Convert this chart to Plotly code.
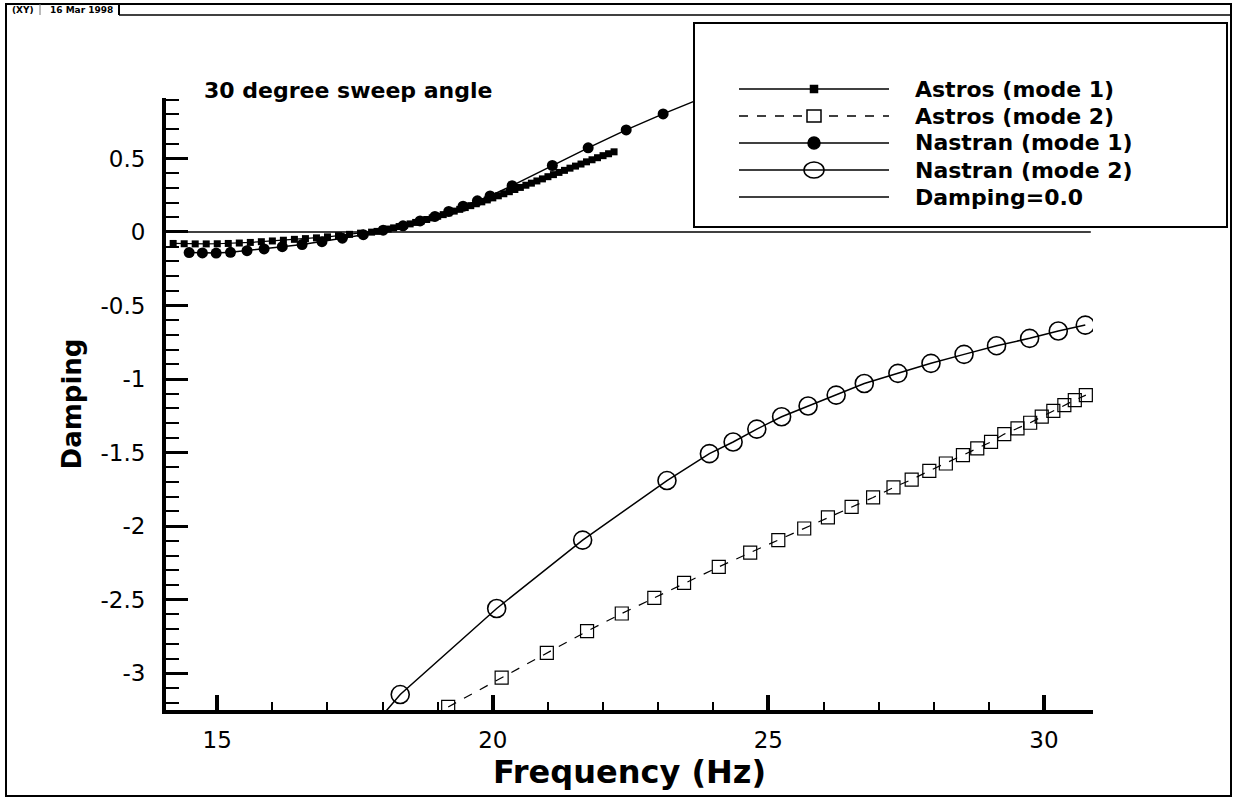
import plotly.graph_objects as go

# ---------------- data ----------------
astros1_x = [14.2, 14.4, 14.6, 14.8, 15.0, 15.2, 15.4, 15.6, 15.8, 16.0, 16.2, 16.4, 16.6,
             16.8, 17.0, 17.2, 17.4, 17.6, 17.8, 17.9, 18.0, 18.1, 18.2, 18.3, 18.4, 18.5,
             18.6, 18.7, 18.8, 18.9, 19.0, 19.1, 19.2, 19.3, 19.4, 19.5, 19.6, 19.7, 19.8,
             19.9, 20.0, 20.1, 20.2, 20.3, 20.4, 20.5, 20.6, 20.7, 20.8, 20.9, 21.0, 21.1,
             21.2, 21.3, 21.4, 21.5, 21.6, 21.7, 21.8, 21.9, 22.0, 22.1, 22.2]
astros1_y = [-0.078, -0.080, -0.081, -0.081, -0.080, -0.078, -0.075, -0.071, -0.066, -0.061,
             -0.056, -0.050, -0.045, -0.040, -0.033, -0.025, -0.016, -0.008, -0.001, 0.004,
             0.012, 0.020, 0.028, 0.037, 0.046, 0.055, 0.065, 0.075, 0.085, 0.096, 0.107,
             0.118, 0.130, 0.142, 0.154, 0.166, 0.179, 0.192, 0.205, 0.218, 0.232, 0.246,
             0.260, 0.274, 0.289, 0.303, 0.318, 0.332, 0.347, 0.361, 0.376, 0.390, 0.405,
             0.419, 0.434, 0.448, 0.462, 0.477, 0.491, 0.505, 0.519, 0.532, 0.545]

astros2_x = [19.19, 20.16, 20.98, 21.71, 22.34, 22.93, 23.47, 24.10, 24.67, 25.18, 25.65,
             26.08, 26.51, 26.90, 27.27, 27.60, 27.92, 28.22, 28.53, 28.79, 29.04, 29.28,
             29.52, 29.75, 29.96, 30.17, 30.37, 30.56, 30.76]
astros2_y = [-3.229, -3.030, -2.862, -2.714, -2.594, -2.488, -2.386, -2.277, -2.180, -2.095,
             -2.016, -1.940, -1.869, -1.805, -1.737, -1.683, -1.624, -1.574, -1.517, -1.471,
             -1.427, -1.374, -1.335, -1.297, -1.256, -1.216, -1.177, -1.143, -1.109]

nastran1_x = [14.49, 14.73, 14.98, 15.24, 15.54, 15.85, 16.18, 16.54, 16.90, 17.27, 17.65,
              18.01, 18.37, 18.68, 18.95, 19.20, 19.46, 19.72, 19.95, 20.35, 21.08, 21.73,
              22.42, 23.09, 23.76]
nastran1_y = [-0.140, -0.142, -0.143, -0.138, -0.127, -0.115, -0.100, -0.085, -0.066, -0.042,
              -0.018, 0.012, 0.042, 0.075, 0.106, 0.140, 0.175, 0.212, 0.245, 0.315, 0.452,
              0.572, 0.694, 0.803, 0.905]

nastran2_x = [16.70, 18.32, 20.07, 21.63, 23.16, 23.93, 24.36, 24.79, 25.24, 25.72, 26.23,
              26.74, 27.35, 27.95, 28.55, 29.14, 29.74, 30.26, 30.75]
nastran2_y = [-3.850, -3.145, -2.560, -2.095, -1.690, -1.507, -1.428, -1.340, -1.256, -1.183,
              -1.109, -1.030, -0.961, -0.893, -0.832, -0.773, -0.723, -0.673, -0.633]

zero_x = [14.07, 30.85]
zero_y = [0.0, 0.0]

x_tick_vals = [15, 20, 25, 30]
x_tick_text = ["15", "20", "25", "30"]
y_tick_vals = [0.5, 0, -0.5, -1, -1.5, -2, -2.5, -3]
y_tick_text = ["0.5", "0", "-0.5", "-1", "-1.5", "-2", "-2.5", "-3"]

series_names = ["Astros (mode 1)", "Astros (mode 2)", "Nastran (mode 1)",
                "Nastran (mode 2)", "Damping=0.0"]

# ---------------- figure ----------------
W, H = 1234, 799
L, R, T, B = 166, 1093, 98, 710


def px(x):
    return (x - L) / (R - L)


def py(y):
    return (B - y) / (B - T)


FONT = "DejaVu Sans"
BLACK = "#000000"

fig = go.Figure()
fig.add_trace(go.Scatter(x=zero_x, y=zero_y, mode="lines", name=series_names[4],
                         line=dict(color=BLACK, width=1.5)))
fig.add_trace(go.Scatter(x=astros1_x, y=astros1_y, mode="lines+markers", name=series_names[0],
                         line=dict(color=BLACK, width=1.2),
                         marker=dict(symbol="square", size=7, color=BLACK)))
fig.add_trace(go.Scatter(x=astros2_x, y=astros2_y, mode="lines+markers", name=series_names[1],
                         line=dict(color=BLACK, width=1.2, dash="dash"),
                         marker=dict(symbol="square-open", size=13, color=BLACK,
                                     line=dict(width=1.2, color=BLACK))))
fig.add_trace(go.Scatter(x=nastran1_x, y=nastran1_y, mode="lines+markers", name=series_names[2],
                         line=dict(color=BLACK, width=1.5),
                         marker=dict(symbol="circle", size=11, color=BLACK)))
fig.add_trace(go.Scatter(x=nastran2_x, y=nastran2_y, mode="lines+markers", name=series_names[3],
                         line=dict(color=BLACK, width=1.5),
                         marker=dict(symbol="circle-open", size=18, color=BLACK,
                                     line=dict(width=1.6, color=BLACK))))

fig.update_xaxes(
    range=[14.07, 30.89], showgrid=False, zeroline=False,
    showline=True, linecolor=BLACK, linewidth=4, mirror=False,
    tickmode="array", tickvals=x_tick_vals, ticktext=x_tick_text,
    ticks="inside", ticklen=15, tickwidth=4, tickcolor=BLACK,
    ticklabelstandoff=6,
    tickfont=dict(family=FONT, size=23, color=BLACK),
    minor=dict(tickmode="linear", tick0=0, dtick=1, ticks="inside", ticklen=8,
               tickwidth=1.5, tickcolor=BLACK, showgrid=False),
    title=dict(text="Frequency (Hz)", standoff=6,
               font=dict(family=FONT, size=32, color=BLACK, weight="bold")),
)
fig.update_yaxes(
    range=[-3.25, 0.911], showgrid=False, zeroline=False,
    showline=True, linecolor=BLACK, linewidth=4, mirror=False,
    tickmode="array", tickvals=y_tick_vals, ticktext=y_tick_text,
    ticks="inside", ticklen=22, tickwidth=3, tickcolor=BLACK,
    ticklabelstandoff=12,
    tickfont=dict(family=FONT, size=23, color=BLACK),
    minor=dict(tickmode="linear", tick0=0, dtick=0.1, ticks="inside", ticklen=13,
               tickwidth=1.8, tickcolor=BLACK, showgrid=False),
    title=dict(text="Damping", standoff=12,
               font=dict(family=FONT, size=26, color=BLACK, weight="bold")),
)

shapes = []
annotations = []

# page frame and header tab
shapes.append(dict(type="rect", xref="paper", yref="paper", x0=px(6), x1=px(1231), y0=py(796),
                   y1=py(4), line=dict(color=BLACK, width=2), layer="above"))
shapes.append(dict(type="line", xref="paper", yref="paper", x0=px(119), x1=px(1231), y0=py(15),
                   y1=py(15), line=dict(color=BLACK, width=1.5), layer="above"))
shapes.append(dict(type="line", xref="paper", yref="paper", x0=px(40), x1=px(40), y0=py(15),
                   y1=py(4), line=dict(color="#777777", width=1), layer="above"))
shapes.append(dict(type="line", xref="paper", yref="paper", x0=px(119), x1=px(119), y0=py(15),
                   y1=py(4), line=dict(color=BLACK, width=2), layer="above"))
annotations.append(dict(text="(XY)", xref="paper", yref="paper", x=px(10), y=py(9.5),
                        xanchor="left", yanchor="middle", showarrow=False,
                        font=dict(family=FONT, size=9, color=BLACK, weight="bold")))
annotations.append(dict(text="16 Mar 1998", xref="paper", yref="paper", x=px(48), y=py(9.5),
                        xanchor="left", yanchor="middle", showarrow=False,
                        font=dict(family=FONT, size=9, color=BLACK, weight="bold")))

# plot label
annotations.append(dict(text="30 degree sweep angle", xref="paper", yref="paper",
                        x=px(202), y=py(90), xanchor="left", yanchor="middle", showarrow=False,
                        font=dict(family=FONT, size=22, color=BLACK, weight="bold")))

# legend box (drawn above the curves, like the original)
shapes.append(dict(type="rect", xref="paper", yref="paper", x0=px(694), x1=px(1227),
                   y0=py(227), y1=py(23), fillcolor="white",
                   line=dict(color=BLACK, width=2), layer="above"))
rows = [89, 116, 143, 170, 197]
key_x0, key_x1, key_mid, text_x = 739, 889, 814, 913
key_dash = ["solid", "dash", "solid", "solid", "solid"]
for i, name in enumerate(series_names):
    yy = py(rows[i])
    shapes.append(dict(type="line", xref="paper", yref="paper", x0=px(key_x0), x1=px(key_x1),
                       y0=yy, y1=yy, line=dict(color=BLACK, width=1.5, dash=key_dash[i]),
                       layer="above"))
    annotations.append(dict(text=name, xref="paper", yref="paper", x=px(text_x), y=yy,
                            xanchor="left", yanchor="middle", showarrow=False,
                            font=dict(family=FONT, size=22, color=BLACK, weight="bold")))
key_marks = [
    dict(type="rect", hw=3.5, hh=3.5, fill=BLACK),
    dict(type="rect", hw=7, hh=6, fill="white"),
    dict(type="circle", hw=6, hh=6, fill=BLACK),
    dict(type="circle", hw=10, hh=8, fill="rgba(0,0,0,0)"),
]
for i, km in enumerate(key_marks):
    shapes.append(dict(type=km["type"], xref="paper", yref="paper",
                       xsizemode="pixel", ysizemode="pixel",
                       xanchor=px(key_mid), yanchor=py(rows[i]),
                       x0=-km["hw"], x1=km["hw"], y0=-km["hh"], y1=km["hh"],
                       fillcolor=km["fill"], line=dict(color=BLACK, width=1.5),
                       layer="above"))

fig.update_layout(
    width=W, height=H,
    margin=dict(l=L, r=W - R, t=T, b=H - B, autoexpand=False),
    plot_bgcolor="white", paper_bgcolor="white",
    showlegend=False,
    shapes=shapes, annotations=annotations,
    font=dict(family=FONT, color=BLACK),
)

fig.write_html("out.html", config={"displayModeBar": False},
               post_script="document.body.style.margin='0';")
